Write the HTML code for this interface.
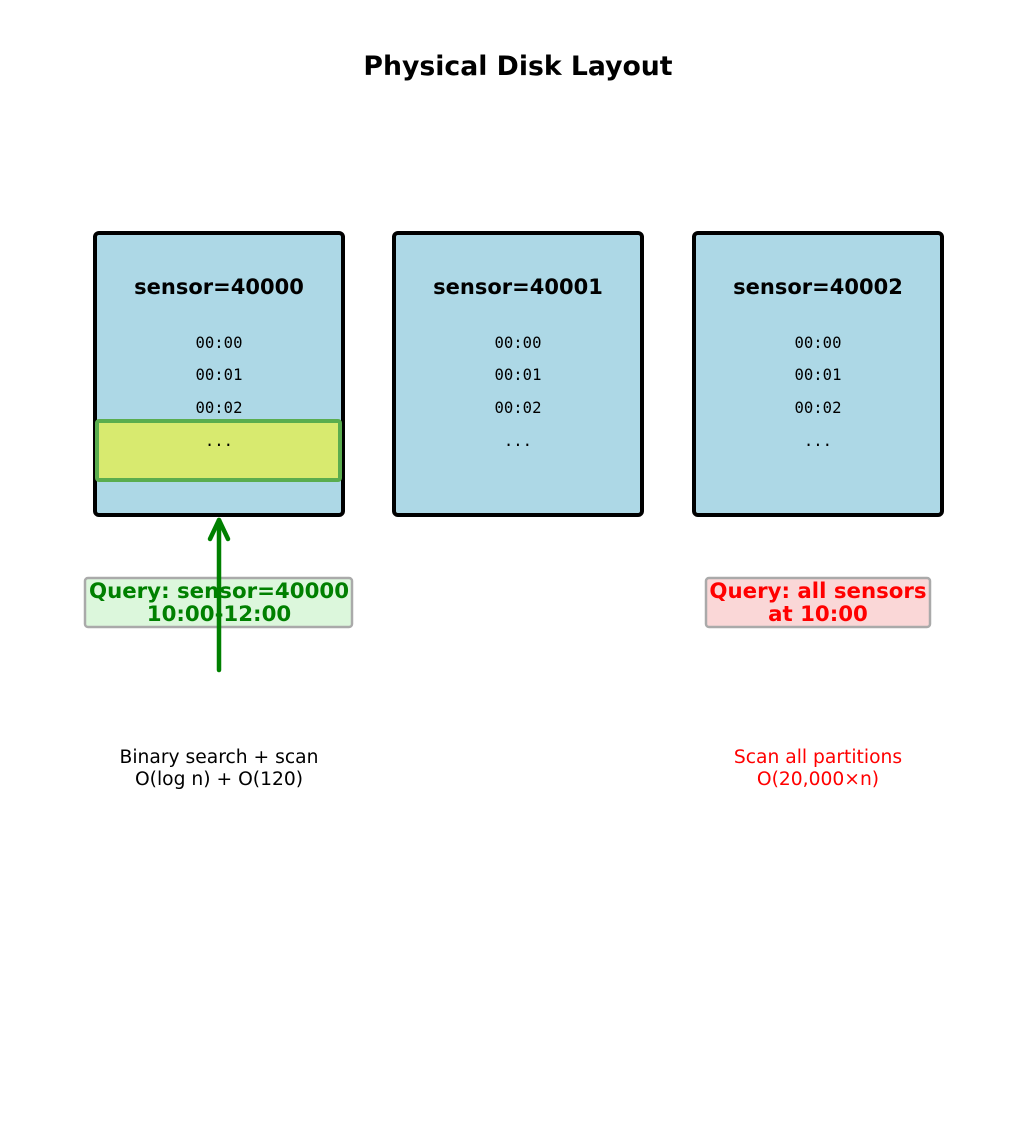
<!DOCTYPE html>
<html><head><style>body{margin:0;background:#fff}svg{display:block}</style></head><body>
<svg width="1036" height="1132" viewBox="0 0 1036 1132" xmlns="http://www.w3.org/2000/svg" font-family="DejaVu Sans, Liberation Sans, sans-serif">
<text x="518" y="75" text-anchor="middle" font-size="26.7" font-weight="bold">Physical Disk Layout</text>
<g stroke="#000" stroke-width="4" fill="#add8e6">
<rect x="95" y="233" width="248" height="282" rx="4"/>
<rect x="394" y="233" width="248" height="282" rx="4"/>
<rect x="694" y="233" width="248" height="282" rx="4"/>
</g>
<rect x="97" y="421" width="243" height="59" rx="2" fill="#d8ea6f" stroke="#5aad4e" stroke-width="4"/>
<g font-size="21" font-weight="bold" text-anchor="middle">
<text x="219" y="294">sensor=40000</text>
<text x="518" y="294">sensor=40001</text>
<text x="818" y="294">sensor=40002</text>
</g>
<g font-family="DejaVu Sans Mono, Liberation Mono, monospace" font-size="15.6" text-anchor="middle">
<text x="219" y="348">00:00</text><text x="219" y="380">00:01</text><text x="219" y="413">00:02</text><text x="219" y="446">...</text>
<text x="518" y="348">00:00</text><text x="518" y="380">00:01</text><text x="518" y="413">00:02</text><text x="518" y="446">...</text>
<text x="818" y="348">00:00</text><text x="818" y="380">00:01</text><text x="818" y="413">00:02</text><text x="818" y="446">...</text>
</g>
<rect x="85" y="578" width="267" height="49" rx="3" fill="#dcf7dc" stroke="#aaa" stroke-width="2.5"/>
<g font-size="21.3" font-weight="bold" text-anchor="middle" fill="#008000">
<text x="219" y="598">Query: sensor=40000</text>
<text x="219" y="621">10:00-12:00</text>
</g>
<g stroke="#008000" stroke-width="4.5" fill="none" stroke-linecap="round" stroke-linejoin="round">
<line x1="219" y1="670" x2="219" y2="520"/>
<polyline points="210,539 219,520 228,539"/>
</g>
<rect x="706" y="578" width="224" height="49" rx="3" fill="#fad7d7" stroke="#aaa" stroke-width="2.5"/>
<g font-size="21.3" font-weight="bold" text-anchor="middle" fill="#ff0000">
<text x="818" y="598">Query: all sensors</text>
<text x="818" y="621">at 10:00</text>
</g>
<g font-size="18.7" text-anchor="middle">
<text x="219" y="763">Binary search + scan</text>
<text x="219" y="785">O(log n) + O(120)</text>
<text x="818" y="763" fill="#ff0000">Scan all partitions</text>
<text x="818" y="785" fill="#ff0000">O(20,000×n)</text>
</g>
</svg>
</body></html>
